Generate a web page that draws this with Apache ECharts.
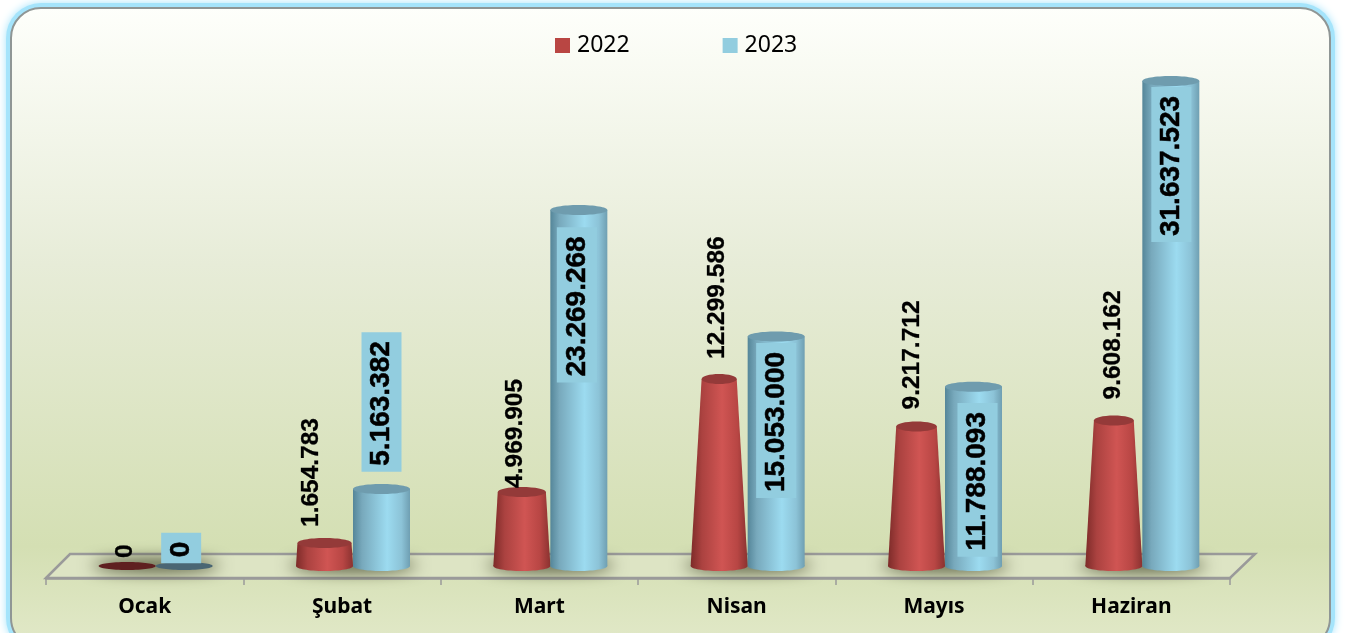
<!DOCTYPE html>
<html>
<head>
<meta charset="utf-8">
<script src="https://cdn.jsdelivr.net/npm/echarts@6/dist/echarts.min.js"></script>
<style>
html, body { margin: 0; padding: 0; background: #fff; overflow: hidden; }
#main { width: 1346px; height: 633px; }
</style>
</head>
<body>
<div id="main"></div>
<script>
// aylar ve yillik degerler
const months = ["Ocak", "Şubat", "Mart", "Nisan", "Mayıs", "Haziran"];
const values2022 = [0, 1654783, 4969905, 12299586, 9217712, 9608162];
const values2023 = [0, 5163382, 23269268, 15053000, 11788093, 31637523];

// etiket kaydirmalari (px), grafikteki elle yerlestirilmis etiketler icin
const redLabelShift = [[-1.5, -8], [-13.5, -16], [-6.5, -4], [-1.5, -20], [-4.5, -17], [-0.5, -21]];
const blueLabelShift = [[-3, -18], [0, -87], [-2, 95], [0, 84], [4, 93], [0.5, 83.5]];

const taperMax = 32000000;
const barRatio = 57 / 197.33;
const fmt = (v) => String(v).replace(/\B(?=(\d{3})+$)/g, ".");

function grad(stops) {
  return {
    type: "linear", x: 0, y: 0, x2: 1, y2: 0,
    colorStops: stops.map((c) => ({ offset: c[0], color: c[1] })),
  };
}

const redBody = grad([[0, "#7d2b29"], [0.2, "#ab4240"], [0.55, "#d05553"], [0.82, "#b84644"], [1, "#8a3230"]]);
const blueBody = grad([[0, "#558699"], [0.16, "#78a9bc"], [0.6, "#9cdbf0"], [0.85, "#8cc3d7"], [1, "#6f9fb2"]]);

// silindir / kesik koni cizimi
function drawBar(params, api, opt) {
  const i = api.value(0);
  const v = api.value(1);
  const band = api.size([1, 0])[0];
  const w = band * barRatio;
  const center = api.coord([i, 0])[0];
  const cx = center + opt.offset * band;
  const baseY = api.coord([i, 0])[1] - 2.5;
  const topY = api.coord([i, v])[1];
  const wTop = opt.taper ? w * (1 - v / taperMax) : w;
  const shift = opt.shift[i];
  const kids = [];

  if (v === 0) {
    kids.push({
      type: "ellipse",
      shape: { cx: cx, cy: baseY, rx: w / 2, ry: 4 },
      style: { fill: opt.flat },
    });
  } else {
    kids.push({
      type: "ellipse",
      shape: { cx: cx, cy: baseY, rx: w / 2, ry: 5 },
      style: { fill: opt.body },
    });
    kids.push({
      type: "polygon",
      shape: {
        points: [
          [cx - wTop / 2, topY],
          [cx + wTop / 2, topY],
          [cx + w / 2, baseY],
          [cx - w / 2, baseY],
        ],
      },
      style: { fill: opt.body },
    });
    kids.push({
      type: "ellipse",
      shape: { cx: cx, cy: topY, rx: wTop / 2, ry: 5 },
      style: { fill: opt.cap },
    });
  }

  const refY = v === 0 ? baseY : topY;
  kids.push({
    type: "text",
    x: cx + shift[0],
    y: refY + shift[1],
    rotation: Math.PI / 2,
    style: Object.assign({
      text: fmt(v),
      fill: "#000",
      stroke: "#000",
      verticalAlign: "middle",
    }, opt.label),
  });
  return { type: "group", children: kids };
}

var myChart = echarts.init(document.getElementById("main"));
myChart.setOption({
  animation: false,
  backgroundColor: "#fff",
  legend: {
    data: ["2022", "2023"],
    left: 550,
    top: 29,
    icon: "rect",
    itemWidth: 15,
    itemHeight: 15,
    itemGap: 93,
    selectedMode: false,
    textStyle: { fontFamily: "Noto Sans", fontSize: 23, color: "#000", padding: [0, 0, 0, 2] },
  },
  grid: { left: 46, width: 1184, top: 29.15, bottom: 64.5 },
  xAxis: {
    type: "category",
    data: months,
    offset: 9.5,
    axisLine: { onZero: false, lineStyle: { color: "#9a9a9a", width: 2.5 } },
    axisTick: { show: true, length: 7, lineStyle: { color: "#9a9a9a", width: 1.5 } },
    axisLabel: { fontFamily: "Noto Sans", fontWeight: "bold", fontSize: 21, color: "#000", margin: 19 },
  },
  yAxis: { type: "value", show: false, min: 0, max: 35000000 },
  // panel ve zemin
  graphic: [
    {
      type: "rect",
      z: -4,
      shape: { x: 6, y: 3, width: 1329, height: 650, r: 35 },
      style: { fill: "#a5e4fb", shadowColor: "#a5e4fb", shadowBlur: 8 },
    },
    {
      type: "rect",
      z: -3,
      shape: { x: 11, y: 8, width: 1319, height: 640, r: 30 },
      style: {
        fill: {
          type: "linear", x: 0, y: 0, x2: 0, y2: 1,
          colorStops: [
            { offset: 0, color: "#feffFB" },
            { offset: 0.4, color: "#e7ecd8" },
            { offset: 0.84, color: "#d4dfb3" },
            { offset: 1, color: "#e2e9c9" },
          ],
        },
        stroke: "#8f9695",
        lineWidth: 2,
      },
    },
    {
      type: "polygon",
      z: -2,
      shape: { points: [[46, 578], [70, 554], [1255, 554], [1230, 578]] },
      style: { fill: "#dde4c4", stroke: "#9a9a9a", lineWidth: 2.5 },
    },
  ],
  series: [
    {
      type: "custom",
      z: 1,
      silent: true,
      data: months.map((m, i) => [i, 0]),
      encode: { x: 0, y: 1 },
      renderItem: function (params, api) {
        const pt = api.coord([api.value(0), 0]);
        // sadece golge gorunsun diye sekil ekran disinda
        return {
          type: "ellipse",
          shape: { cx: pt[0] + 11 - 3000, cy: pt[1] - 3, rx: 64, ry: 6 },
          style: {
            fill: "#000",
            shadowColor: "rgba(60,65,35,1)",
            shadowBlur: 16,
            shadowOffsetX: 3000,
          },
        };
      },
    },
    {
      name: "2022",
      type: "custom",
      z: 3,
      itemStyle: { color: "#b94643" },
      data: values2022.map((v, i) => [i, v]),
      encode: { x: 0, y: 1 },
      renderItem: function (params, api) {
        return drawBar(params, api, {
          offset: -17.5 / 197.33,
          taper: true,
          body: redBody,
          cap: "#943a39",
          flat: "#5f1f20",
          shift: redLabelShift,
          label: { align: "left", font: "bold 24.5px 'Liberation Sans'", lineWidth: 0.3 },
        });
      },
    },
    {
      name: "2023",
      type: "custom",
      z: 4,
      itemStyle: { color: "#92cddf" },
      data: values2023.map((v, i) => [i, v]),
      encode: { x: 0, y: 1 },
      renderItem: function (params, api) {
        return drawBar(params, api, {
          offset: 39.5 / 197.33,
          taper: false,
          body: blueBody,
          cap: "#6f9cae",
          flat: "#4a6673",
          shift: blueLabelShift,
          label: {
            align: "center",
            font: "bold 28px 'Liberation Sans'",
            lineWidth: 0.5,
            backgroundColor: "#92cddf",
            padding: [9, 9, 3, 6],
          },
        });
      },
    },
  ],
});
</script>
</body>
</html>
